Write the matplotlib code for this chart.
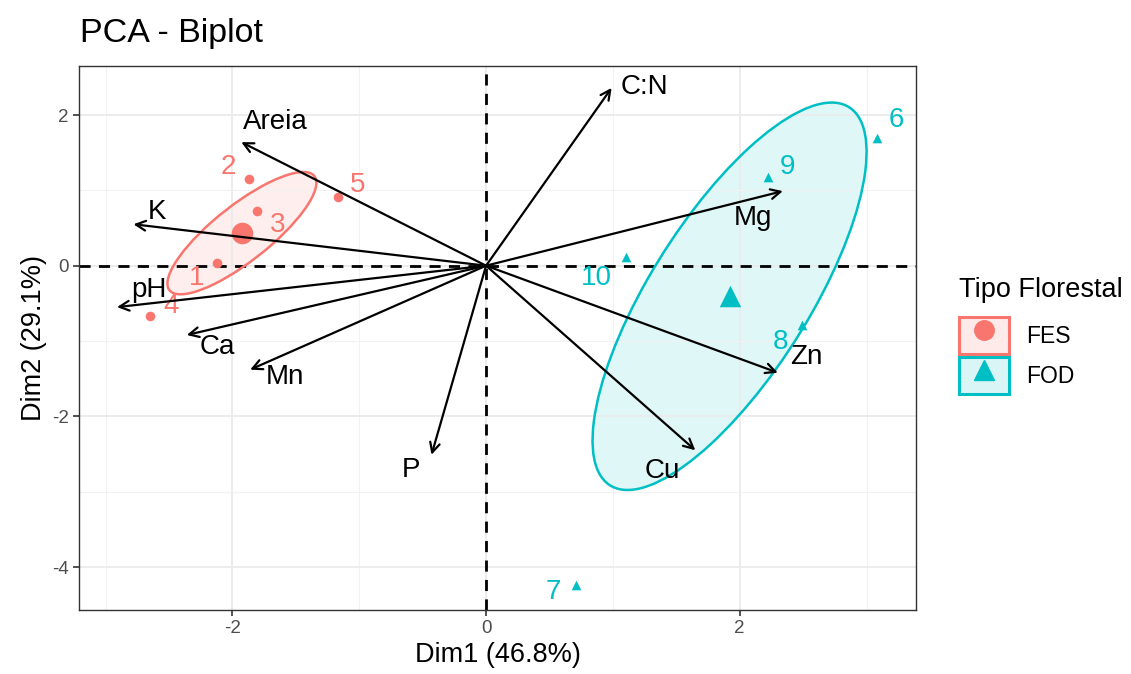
import numpy as np
import matplotlib.pyplot as plt
from matplotlib.patches import Ellipse, Patch
from matplotlib.lines import Line2D

plt.rcParams['font.family'] = ['Liberation Sans', 'DejaVu Sans']
plt.rcParams['axes.unicode_minus'] = False

# individuals (Dim1, Dim2)
ind_names = ['1', '2', '3', '4', '5', '6', '7', '8', '9', '10']
ind_x = [-2.125, -1.87, -1.81, -2.65, -1.17, 3.08, 0.71, 2.49, 2.22, 1.10]
ind_y = [0.04, 1.15, 0.73, -0.67, 0.91, 1.70, -4.24, -0.79, 1.18, 0.12]
ind_group = ['FES'] * 5 + ['FOD'] * 5

# variables (arrow tips)
var_names = ['C:N', 'Areia', 'K', 'pH', 'Ca', 'Mn', 'P', 'Cu', 'Zn', 'Mg']
var_x = [0.99, -1.93, -2.78, -2.91, -2.36, -1.86, -0.43, 1.65, 2.30, 2.34]
var_y = [2.36, 1.64, 0.55, -0.55, -0.92, -1.38, -2.51, -2.45, -1.42, 0.99]

groups = ['FES', 'FOD']
colors = {'FES': '#F8766D', 'FOD': '#00BFC4'}
markers = {'FES': 'o', 'FOD': '^'}

# label offsets in pixels (dx right, dy down)
ind_off = [(-20, 15), (-21, -12), (21, 14), (21, -10), (20, -12),
           (20, -18), (-23, 7), (-21, 17), (20, -10), (-29, 21)]
var_off = [(33, -1), (34, -20), (24, -12), (32, -17), (31, 12),
           (35, 7), (-21, 15), (-33, 21), (29, -16), (-30, 27)]

fig = plt.figure(figsize=(11.31, 6.74), dpi=100)
ax = fig.add_axes([0.0698, 0.095, 0.7401, 0.807])

ax.set_xlim(-3.21, 3.39)
ax.set_ylim(-4.57, 2.65)
ax.set_xticks([-2, 0, 2])
ax.set_yticks([-4, -2, 0, 2])
ax.set_xticks([-3, -1, 1, 3], minor=True)
ax.set_yticks([-3, -1, 1], minor=True)
ax.grid(which='major', color='#EBEBEB', lw=1.3, zorder=0)
ax.grid(which='minor', color='#F2F2F2', lw=0.8, zorder=0)
ax.tick_params(which='minor', length=0)
ax.tick_params(which='major', length=4, width=1.2, color='#333333',
               labelsize=13.5, labelcolor='#4D4D4D')
for s in ax.spines.values():
    s.set_color('#333333')
    s.set_linewidth(1.0)

ax.axhline(0, color='black', ls=(0, (4, 3)), lw=2, zorder=2)
ax.axvline(0, color='black', ls=(0, (4, 3)), lw=2, zorder=2)

px2pt = 72 / 100
ix = np.array(ind_x)
iy = np.array(ind_y)
grp = np.array(ind_group)
for g in groups:
    m = grp == g
    gx, gy = ix[m], iy[m]
    # confidence ellipse around the group mean (95%)
    cov = np.cov(gx, gy)
    vals, vecs = np.linalg.eigh(cov)
    r = np.sqrt(5.991 / m.sum())
    ang = np.degrees(np.arctan2(vecs[1, 1], vecs[0, 1]))
    w, h = 2 * r * np.sqrt(vals[1]), 2 * r * np.sqrt(vals[0])
    ax.add_patch(Ellipse((gx.mean(), gy.mean()), w, h, angle=ang,
                         facecolor=colors[g], alpha=0.12, edgecolor='none', zorder=1))
    ax.add_patch(Ellipse((gx.mean(), gy.mean()), w, h, angle=ang,
                         facecolor='none', edgecolor=colors[g], lw=1.8, zorder=3))
    ax.scatter(gx, gy, marker=markers[g], s=48, color=colors[g], zorder=4, linewidths=0)
    ax.scatter([gx.mean()], [gy.mean()], marker=markers[g], s=240, color=colors[g],
               zorder=4, linewidths=0)

for i, name in enumerate(ind_names):
    dx, dy = ind_off[i]
    ax.annotate(name, (ind_x[i], ind_y[i]), xytext=(dx * px2pt, -dy * px2pt),
                textcoords='offset points', ha='center', va='center',
                fontsize=20, color=colors[ind_group[i]], zorder=5)

for i, name in enumerate(var_names):
    ax.annotate('', xy=(var_x[i], var_y[i]), xytext=(0, 0),
                arrowprops=dict(arrowstyle='->,head_length=0.7,head_width=0.35',
                                color='black', lw=1.6, shrinkA=0, shrinkB=0),
                zorder=6)
    dx, dy = var_off[i]
    ax.annotate(name, (var_x[i], var_y[i]), xytext=(dx * px2pt, -dy * px2pt),
                textcoords='offset points', ha='center', va='center',
                fontsize=20, color='black', zorder=7)

ax.set_xlabel('Dim1 (46.8%)', fontsize=19.5, labelpad=3)
ax.set_ylabel('Dim2 (29.1%)', fontsize=19.5, labelpad=3)
fig.text(0.0708, 0.951, 'PCA - Biplot', fontsize=24.5, ha='left', va='center')

handles = [(Patch(facecolor=colors[g], alpha=0.15, edgecolor='none'),
            Patch(facecolor='none', edgecolor=colors[g], lw=2.2),
            Line2D([], [], marker=markers[g], color=colors[g], ls='none', markersize=14))
           for g in groups]
leg = fig.legend(handles, groups, title='Tipo Florestal', loc='upper left',
                 bbox_to_anchor=(0.83, 0.62), frameon=False, fontsize=16.5,
                 title_fontsize=19.5, handlelength=2.15, handleheight=2.15,
                 labelspacing=0.1, handletextpad=0.75, alignment='left')
leg._legend_box.sep = 10

fig.savefig('out.png', dpi=100)
